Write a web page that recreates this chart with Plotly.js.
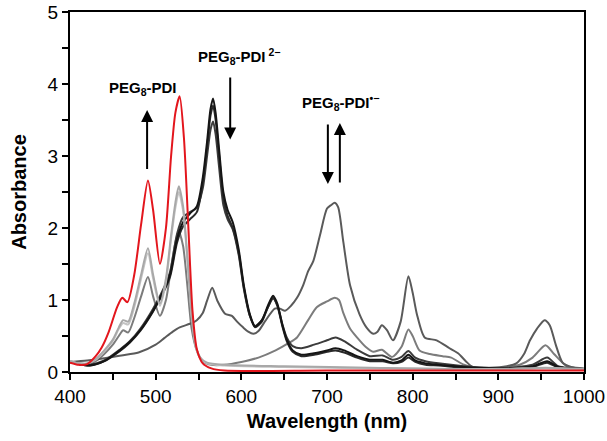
<!DOCTYPE html>
<html>
<head>
<meta charset="utf-8">
<script src="https://cdn.plot.ly/plotly-3.0.1.min.js"></script>
<style>html,body{margin:0;padding:0;background:#fff;}#chart{width:607px;height:441px;}</style>
</head>
<body>
<div id="chart"></div>
<script>
// ---- data ----
const neutralWl  = [400,410,420,430,437,445,455,461,467,475,483,491,497,505,512,518,523,528,533,538,543,548,555,565,580,700,900,1000];
const neutralAbs = [0.13,0.10,0.11,0.22,0.34,0.55,0.90,1.03,0.97,1.35,2.05,2.66,2.25,1.50,2.00,3.00,3.60,3.83,3.25,2.05,0.85,0.32,0.12,0.05,0.02,0.02,0.02,0.02];

const reoxWl   = [400,410,420,430,440,450,457,462,468,475,483,491,497,505,512,518,523,527,532,537,542,547,552,560,580,650,750,900,955,1000];
const reoxAAbs = [0.15,0.12,0.12,0.18,0.30,0.45,0.62,0.72,0.70,0.95,1.35,1.72,1.35,0.95,1.30,1.90,2.35,2.58,2.30,1.60,0.80,0.35,0.20,0.13,0.10,0.08,0.06,0.04,0.06,0.04];
const reoxBAbs = [0.15,0.12,0.12,0.17,0.29,0.43,0.60,0.68,0.66,0.90,1.30,1.65,1.30,0.92,1.25,1.85,2.28,2.50,2.24,1.55,0.78,0.34,0.19,0.12,0.09,0.07,0.05,0.04,0.05,0.04];

const interWl  = [400,410,420,430,440,450,457,462,468,475,483,491,497,505,512,518,523,527,532,537,542,548,555,565,580,600,620,640,655,665,678,688,700,709,714,719,727,735,745,754,764,776,787,795,800,808,820,835,845,860,880,900,925,940,955,965,980,1000];
const interAbs = [0.15,0.12,0.11,0.15,0.25,0.38,0.50,0.58,0.55,0.75,1.05,1.32,1.05,0.78,1.00,1.45,1.80,1.95,1.75,1.20,0.60,0.30,0.15,0.10,0.10,0.14,0.20,0.30,0.40,0.48,0.72,0.90,0.98,1.03,1.00,0.82,0.60,0.48,0.35,0.28,0.31,0.21,0.35,0.59,0.50,0.30,0.25,0.22,0.20,0.10,0.05,0.05,0.10,0.20,0.37,0.25,0.08,0.04];

const radicalWl  = [400,420,440,460,480,500,510,520,528,540,548,555,560,566,572,581,589,595,602,608,614,620,628,639,645,651,658,665,672,678,684,692,700,705,709,713,719,727,738,746,754,759,764,770,777,786,795,800,805,814,828,843,853,862,870,890,910,921,930,937,945,954,960,967,975,985,1000];
const radicalAbs = [0.14,0.16,0.19,0.23,0.27,0.38,0.47,0.56,0.62,0.67,0.72,0.82,0.99,1.17,0.99,0.81,0.78,0.70,0.62,0.56,0.53,0.57,0.71,0.88,0.88,0.85,0.92,1.03,1.20,1.40,1.54,1.91,2.27,2.32,2.35,2.29,1.81,1.20,0.80,0.62,0.53,0.56,0.65,0.58,0.44,0.70,1.33,1.10,0.80,0.48,0.44,0.33,0.26,0.15,0.07,0.06,0.08,0.12,0.25,0.44,0.60,0.72,0.65,0.38,0.13,0.07,0.05];

const dianionWl   = [400,410,423,440,458,470,482,497,510,517,525,532,540,548,555,560,564,567,570,574,579,584,590,597,603,610,616,624,631,637,642,648,653,660,670,685,700,710,720,735,750,765,777,787,795,803,815,830,860,900,940,957,970,1000];
const dianionAAbs = [0.14,0.11,0.09,0.15,0.30,0.42,0.58,0.85,1.15,1.36,1.85,2.08,2.20,2.30,2.70,3.20,3.65,3.80,3.60,3.10,2.50,2.25,2.08,1.70,1.20,0.80,0.63,0.72,0.92,1.06,0.95,0.65,0.45,0.30,0.24,0.26,0.30,0.33,0.30,0.22,0.17,0.17,0.13,0.16,0.24,0.16,0.12,0.10,0.07,0.05,0.08,0.15,0.07,0.04];
const dianionBAbs = [0.14,0.11,0.09,0.15,0.29,0.41,0.57,0.84,1.13,1.33,1.80,2.02,2.12,2.22,2.62,3.12,3.56,3.70,3.50,3.02,2.42,2.17,2.00,1.65,1.17,0.78,0.62,0.70,0.90,1.03,0.92,0.63,0.43,0.28,0.22,0.24,0.28,0.30,0.27,0.20,0.15,0.15,0.12,0.14,0.20,0.14,0.10,0.09,0.06,0.04,0.07,0.13,0.06,0.04];
const dianionCAbs = [0.14,0.11,0.10,0.16,0.31,0.43,0.60,0.88,1.18,1.40,1.92,2.15,2.22,2.28,2.55,3.00,3.36,3.48,3.30,2.85,2.32,2.12,1.98,1.62,1.15,0.78,0.64,0.72,0.90,1.02,0.93,0.66,0.48,0.36,0.33,0.38,0.44,0.48,0.43,0.31,0.22,0.23,0.17,0.21,0.29,0.20,0.15,0.12,0.08,0.05,0.10,0.20,0.08,0.04];

const xTickVals = [400,500,600,700,800,900,1000];
const yTickVals = [0,1,2,3,4,5];

// ---- chart ----
function tr(x, y, color) {
  return {x: x, y: y, type: 'scatter', mode: 'lines',
    line: {color: color, width: 2, shape: 'spline', smoothing: 0.7},
    hoverinfo: 'skip', showlegend: false};
}
const data = [
  tr(interWl, interAbs, '#7c7c7c'),
  tr(radicalWl, radicalAbs, '#5a5a5a'),
  tr(dianionWl, dianionCAbs, '#3c3c3c'),
  tr(dianionWl, dianionBAbs, '#2a2a2a'),
  tr(dianionWl, dianionAAbs, '#151515'),
  tr(reoxWl, reoxBAbs, '#c4c4c4'),
  tr(reoxWl, reoxAAbs, '#a8a8a8'),
  tr(neutralWl, neutralAbs, '#e3161d')
];

const font = "'Liberation Sans', Arial, sans-serif";
function arrow(x, yHead, yTail) {
  return {x: x, y: yHead, ax: x, ay: yTail, xref: 'x', yref: 'y', axref: 'x', ayref: 'y',
    text: '', showarrow: true, arrowhead: 2, arrowsize: 1.2, arrowwidth: 2, arrowcolor: '#000'};
}
function label(x, y, text) {
  return {x: x, y: y, xref: 'x', yref: 'y', text: text, showarrow: false,
    font: {family: font, size: 15, color: '#000', weight: 'bold'}};
}

const layout = {
  width: 607, height: 441,
  margin: {l: 70, r: 23, t: 12, b: 69},
  paper_bgcolor: '#fff', plot_bgcolor: '#fff',
  font: {family: font, color: '#000'},
  xaxis: {
    range: [400, 1000], tickvals: xTickVals, ticks: 'outside', ticklen: 6, tickwidth: 2,
    tickcolor: '#000', showline: true, linecolor: '#000', linewidth: 2, mirror: true,
    showgrid: false, zeroline: false, tickfont: {size: 19, family: font},
    ticklabeloverflow: 'allow',
    minor: {dtick: 50, ticks: 'outside', ticklen: 6, tickwidth: 2, tickcolor: '#000', showgrid: false},
    title: {text: '<b>Wavelength (nm)</b>', font: {size: 20, family: font}, standoff: 8}
  },
  yaxis: {
    range: [0, 5], tickvals: yTickVals, ticks: 'outside', ticklen: 6, tickwidth: 2,
    tickcolor: '#000', showline: true, linecolor: '#000', linewidth: 2, mirror: true,
    showgrid: false, zeroline: false, tickfont: {size: 19, family: font},
    ticklabeloverflow: 'allow',
    minor: {dtick: 0.5, ticks: 'outside', ticklen: 6, tickwidth: 2, tickcolor: '#000', showgrid: false},
    title: {text: '<b>Absorbance</b>', font: {size: 20, family: font}, standoff: 16}
  },
  annotations: [
    label(485, 3.94, 'PEG<sub>8</sub>-PDI'),
    label(597, 4.38, 'PEG<sub>8</sub>-PDI<sup> 2−</sup>'),
    label(716, 3.74, 'PEG<sub>8</sub>-PDI<sup>•−</sup>'),
    arrow(490, 3.64, 2.80),
    arrow(587, 3.23, 4.11),
    arrow(701, 2.61, 3.46),
    arrow(715, 3.46, 2.61)
  ]
};

Plotly.newPlot('chart', data, layout, {staticPlot: true, displayModeBar: false});
</script>
</body>
</html>
